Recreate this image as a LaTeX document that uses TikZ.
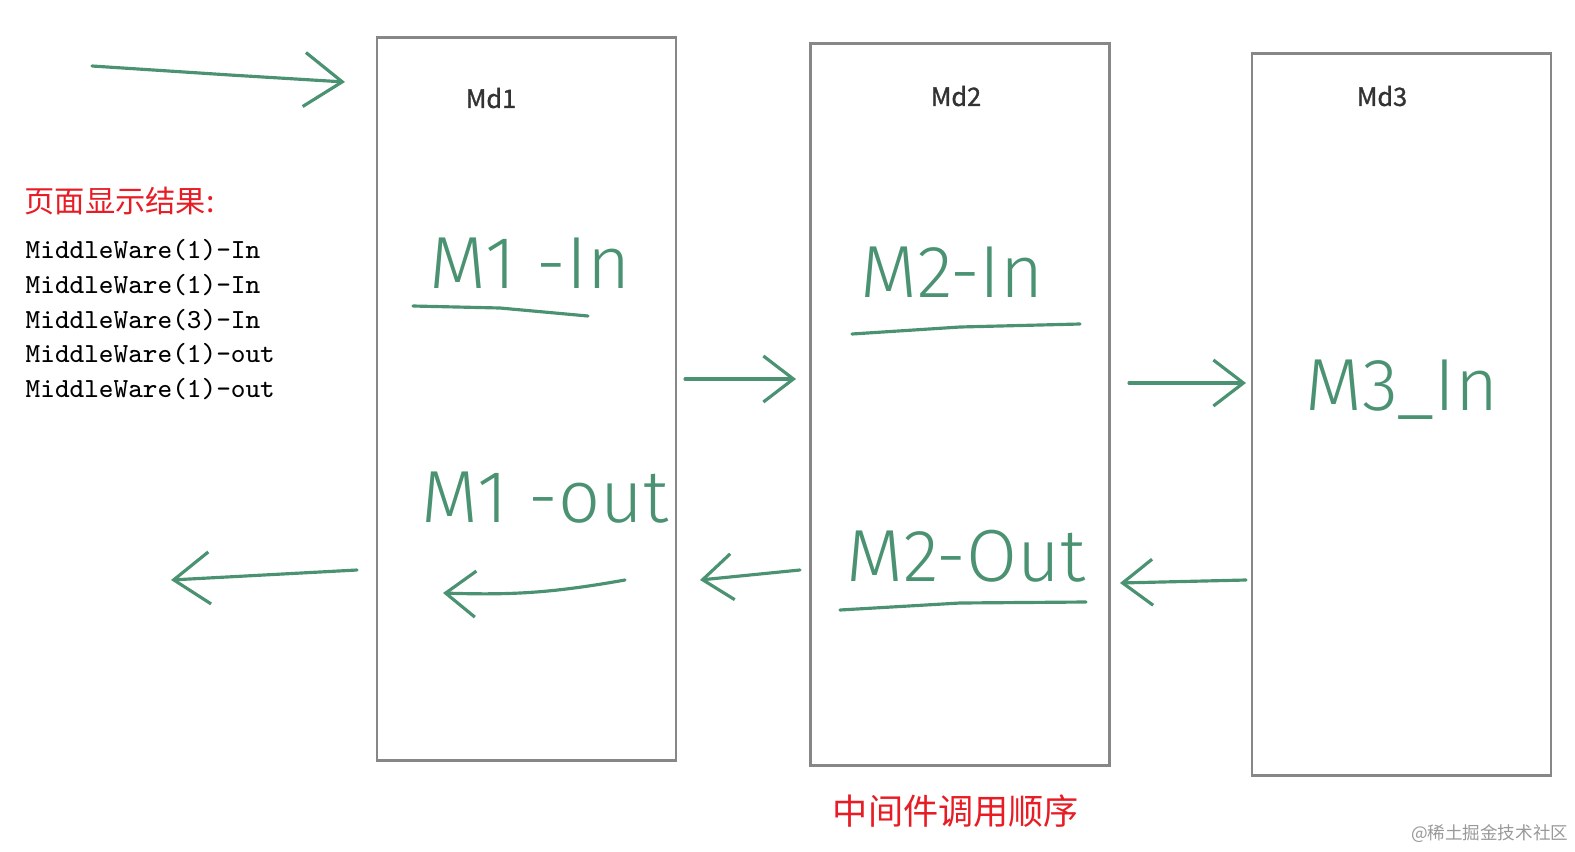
\documentclass[tikz,border=0pt]{standalone}
\usepackage{fontspec}
\newfontfamily\cjk{Noto Sans CJK SC}
\newfontfamily\cjkbold{Noto Sans CJK SC}[FakeBold=1.2]
\newfontfamily\handfont{Fira Sans}[UprightFont=* Light]
\usetikzlibrary{calc,positioning,arrows.meta}
\definecolor{inkgreen}{RGB}{74,146,114}
\definecolor{boxgray}{RGB}{135,135,135}
\definecolor{notered}{RGB}{232,28,36}
\newcommand{\barbstyle}{-{Straight Barb[length=3mm,width=4.6mm]}}

\begin{document}
\begin{tikzpicture}[
    x=0.01cm, y=-0.01cm,
    sig/.style={\barbstyle, inkgreen, line width=0.9pt, line cap=round, line join=round},
    uline/.style={inkgreen, line width=0.9pt, line cap=round},
    mdbox/.style={draw=boxgray, line width=0.75pt, minimum width=2.99cm, minimum height=7.22cm, inner sep=0pt},
    mdtitle/.style={font=\cjkbold\fontsize{7.2}{8}\selectfont, text=black!80, inner sep=0pt},
    hand/.style={font=\handfont\fontsize{21}{24}\selectfont, text=inkgreen, inner sep=0pt},
    redtxt/.style={font=\cjk\fontsize{8.6}{10}\selectfont, text=notered, inner sep=0pt}
]
  \useasboundingbox (0,0) rectangle (1575,851);

  % middleware boxes
  \node[mdbox] (md1) at (526.5,399) {};
  \node[mdbox] (md2) at (960,404.5) {};
  \node[mdbox] (md3) at (1401.5,414.5) {};

  \node[mdtitle] (md1-t) at (491,98) {Md1};
  \node[mdtitle] (md2-t) at (956,96) {Md2};
  \node[mdtitle] (md3-t) at (1382,96) {Md3};

  % handwritten notes
  \node[hand] (m1in) at (530,263) {M1 -In};
  \node[hand] (m1out) at (545,498) {M1 -out};
  \node[hand] (m2in) at (952,272) {M2-In};
  \node[hand] (m2out) at (966,556) {M2-Out};
  \node[hand] (m3in) at (1402,390) {M3\_In};

  \draw[uline] (413,306) -- (500,308) -- (588,316);
  \draw[uline] (852,334) -- (960,327) -- (1080,324);
  \draw[uline] (840,610) -- (960,603) -- (1086,602);

  % page output
  \node[redtxt, anchor=west] (result-t) at (24,201) {页面显示结果:};
  \node[anchor=north west, inner sep=0pt, align=left,
        font=\ttfamily\fontsize{7.85}{9.85}\selectfont] (result) at (25,239)
    {MiddleWare(1)-In\\MiddleWare(1)-In\\MiddleWare(3)-In\\MiddleWare(1)-out\\MiddleWare(1)-out};

  % call order
  \node[font=\cjk\fontsize{10}{12}\selectfont, text=notered, inner sep=0pt] (order) at (956,811) {中间件调用顺序};
  \node[font=\cjk\fontsize{5}{6}\selectfont, text=black!40, inner sep=0pt, anchor=east] (mark) at (1569,834) {@稀土掘金技术社区};

  % arrow ends
  \coordinate (req) at (92,66);
  \coordinate (req-e) at (345,82);
  \coordinate (go12) at (685,379);
  \coordinate (go12-e) at (796,379);
  \coordinate (go23) at (1129,383);
  \coordinate (go23-e) at (1246,383);
  \coordinate (bk32) at (1246,580);
  \coordinate (bk32-e) at (1120,583);
  \coordinate (bk21) at (800,570);
  \coordinate (bk21-e) at (700,580);
  \coordinate (bk11) at (625,580);
  \coordinate (bk11-e) at (443,593);
  \coordinate (resp) at (357,570);
  \coordinate (resp-e) at (171,580);

  \draw[sig, -{Straight Barb[length=3.8mm,width=5.4mm]}] (req) -- (230,75) -- (req-e);
  \draw[sig] (go12) -- (go12-e);
  \draw[sig] (go23) -- (go23-e);
  \draw[sig] (bk32) -- (bk32-e);
  \draw[sig] (bk21) -- (bk21-e);
  \draw[sig] (bk11) to[bend left=6] (bk11-e);
  \draw[sig, -{Straight Barb[length=3.6mm,width=5.2mm]}] (resp) -- (resp-e);
\end{tikzpicture}
\end{document}
